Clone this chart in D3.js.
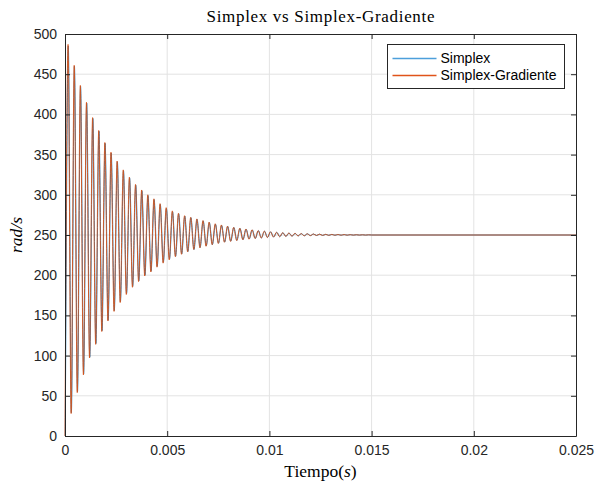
<!DOCTYPE html>
<html>
<head>
<meta charset="utf-8">
<script src="https://cdn.jsdelivr.net/npm/d3@7"></script>
<style>
  body { margin: 0; background: #fff; }
  svg { display: block; }
</style>
</head>
<body>
<div id="chart"></div>
<script>
// extrema of the oscillation (rad/s), one every half period
const halfPeriod = 0.00015;
const simplexDelay = 0.000012;
const endTime = 0.025;
const steadyValue = 250;

const simplexGradiente = [
  0, 487, 28, 461, 54, 436, 76, 415, 97, 396,
  114, 380, 130, 365, 143, 353, 155, 342, 166, 331,
  176, 322, 185, 313, 192, 306, 199, 300, 204, 295,
  210, 289, 215, 284, 219, 280, 223, 277, 226, 274,
  229, 272, 232, 270, 234, 268, 236, 266, 238, 264,
  239.5, 262.5, 241, 261, 242, 259.5, 243, 258.5, 244, 257.5,
  244.8, 256.5, 245.5, 255.5, 246.2, 254.8, 246.8, 254.1, 247.3, 253.5,
  247.8, 252.9, 248.2, 252.5, 248.5, 252.1, 248.8, 251.8, 249.0, 251.5,
  249.2, 251.2, 249.4, 251.0, 249.5, 250.8, 249.6, 250.7, 249.7, 250.6,
  249.75, 250.5, 249.8, 250.4, 249.85, 250.3, 249.9, 250.25, 249.9, 250.2,
  250
];

const simplex = [
  0, 485, 29, 460, 55, 435, 77, 414, 98, 395,
  115, 379, 131, 364, 144, 352, 156, 341, 167, 330,
  177, 321, 186, 312, 193, 305, 200, 299, 205, 294,
  211, 288, 216, 283, 220, 279, 223.5, 276.5, 226.5, 273.5,
  229.5, 271.5, 232, 269.5, 234.5, 267.5, 236.5, 265.5, 238, 263.5,
  239.8, 262, 241.2, 260.6, 242.4, 259.3, 243.4, 258.2, 244.3, 257.2,
  245.1, 256.3, 245.8, 255.4, 246.4, 254.7, 247, 254, 247.5, 253.4,
  247.9, 252.8, 248.3, 252.4, 248.6, 252, 248.9, 251.7, 249.1, 251.4,
  249.3, 251.2, 249.4, 251, 249.5, 250.8, 249.6, 250.7, 249.7, 250.6,
  249.75, 250.5, 249.8, 250.4, 249.85, 250.3, 249.9, 250.25, 249.9, 250.2,
  250
];

const xTicks = [0, 0.005, 0.01, 0.015, 0.02, 0.025];
const xTickLabels = ["0", "0.005", "0.01", "0.015", "0.02", "0.025"];
const yTicks = [0, 50, 100, 150, 200, 250, 300, 350, 400, 450, 500];
const seriesNames = ["Simplex", "Simplex-Gradiente"];
const seriesColors = ["#0072BD", "#D95319"];
const legendColors = ["#4D9FDB", "#E0531A"];

const width = 597, height = 481;
const margin = { top: 34, right: 21, bottom: 45, left: 65 };
const axisColor = "#262626";
const sansFont = "'Liberation Sans', Arial, sans-serif";
const serifFont = "'Liberation Serif', 'DejaVu Serif', serif";

const svg = d3.select("#chart").append("svg")
  .attr("width", width)
  .attr("height", height);

const x = d3.scaleLinear().domain([0, endTime]).range([margin.left, width - margin.right]);
const y = d3.scaleLinear().domain([0, 500]).range([height - margin.bottom, margin.top]);

const x0 = x.range()[0], x1 = x.range()[1];
const y0 = y.range()[0], y1 = y.range()[1];

// grid
svg.append("g").selectAll("line")
  .data(xTicks.slice(1, -1)).enter().append("line")
  .attr("x1", d => x(d)).attr("x2", d => x(d))
  .attr("y1", y1).attr("y2", y0)
  .attr("stroke", "#e3e3e3").attr("stroke-width", 1);
svg.append("g").selectAll("line")
  .data(yTicks.slice(1, -1)).enter().append("line")
  .attr("x1", x0).attr("x2", x1)
  .attr("y1", d => y(d)).attr("y2", d => y(d))
  .attr("stroke", "#e3e3e3").attr("stroke-width", 1);

// series
function toPoints(values, delay) {
  const pts = values.map((v, i) => ({ t: i * halfPeriod + delay, v: v }));
  pts.push({ t: endTime, v: steadyValue });
  return pts;
}

const line = d3.line()
  .x(d => x(d.t))
  .y(d => y(d.v))
  .curve(d3.curveMonotoneX);

const plot = svg.append("g");
plot.append("path")
  .datum(toPoints(simplex, simplexDelay))
  .attr("d", line)
  .attr("fill", "none")
  .attr("stroke", seriesColors[0])
  .attr("stroke-width", 0.9);
plot.append("path")
  .datum(toPoints(simplexGradiente, 0))
  .attr("d", line)
  .attr("fill", "none")
  .attr("stroke", seriesColors[1])
  .attr("stroke-width", 0.9);

// axes (ticks inward, mirrored on top and right)
const tickLen = 5;
const xAxis = d3.axisBottom(x).tickValues(xTicks).tickFormat((d, i) => xTickLabels[i])
  .tickSizeInner(-tickLen).tickSizeOuter(0).tickPadding(9);
const yAxis = d3.axisLeft(y).tickValues(yTicks)
  .tickSizeInner(-tickLen).tickSizeOuter(0).tickPadding(8);

const gx = svg.append("g").attr("transform", `translate(0,${y0})`).call(xAxis);
const gy = svg.append("g").attr("transform", `translate(${x0},0)`).call(yAxis);
const gxTop = svg.append("g").attr("transform", `translate(0,${y1})`)
  .call(d3.axisTop(x).tickValues(xTicks).tickFormat("").tickSizeInner(-tickLen).tickSizeOuter(0));
const gyRight = svg.append("g").attr("transform", `translate(${x1},0)`)
  .call(d3.axisRight(y).tickValues(yTicks).tickFormat("").tickSizeInner(-tickLen).tickSizeOuter(0));

[gx, gy, gxTop, gyRight].forEach(g => {
  g.select(".domain").attr("stroke", axisColor).attr("stroke-width", 1);
  g.selectAll(".tick line").attr("stroke", axisColor);
  g.selectAll(".tick text")
    .attr("fill", axisColor)
    .style("font-family", sansFont)
    .style("font-size", "14px");
});

// title and axis labels
svg.append("text")
  .attr("x", (x0 + x1) / 2).attr("y", 22)
  .attr("text-anchor", "middle")
  .attr("textLength", 228)
  .attr("lengthAdjust", "spacing")
  .style("font-family", serifFont)
  .style("font-size", "17px")
  .attr("fill", "#000")
  .text("Simplex vs Simplex-Gradiente");

const xl = svg.append("text")
  .attr("x", (x0 + x1) / 2).attr("y", 477)
  .attr("text-anchor", "middle")
  .style("font-family", serifFont)
  .style("font-size", "17.5px")
  .attr("fill", "#000");
xl.append("tspan").text("Tiempo(");
xl.append("tspan").style("font-style", "italic").text("s");
xl.append("tspan").text(")");

svg.append("text")
  .attr("transform", `translate(22,${(y0 + y1) / 2}) rotate(-90)`)
  .attr("text-anchor", "middle")
  .style("font-family", serifFont)
  .style("font-size", "17.5px")
  .style("font-style", "italic")
  .attr("fill", "#000")
  .text("rad/s");

// legend
const legend = svg.append("g").attr("transform", "translate(387.5,44.5)");
legend.append("rect")
  .attr("width", 177).attr("height", 44)
  .attr("fill", "#fff")
  .attr("stroke", axisColor).attr("stroke-width", 1);
seriesNames.forEach((name, i) => {
  const ly = 14 + i * 17;
  legend.append("line")
    .attr("x1", 5).attr("x2", 49)
    .attr("y1", ly).attr("y2", ly)
    .attr("stroke", legendColors[i]).attr("stroke-width", 1.5);
  legend.append("text")
    .attr("x", 53).attr("y", ly)
    .attr("dy", "0.35em")
    .style("font-family", sansFont)
    .style("font-size", "14px")
    .attr("fill", "#000")
    .text(name);
});
</script>
</body>
</html>
